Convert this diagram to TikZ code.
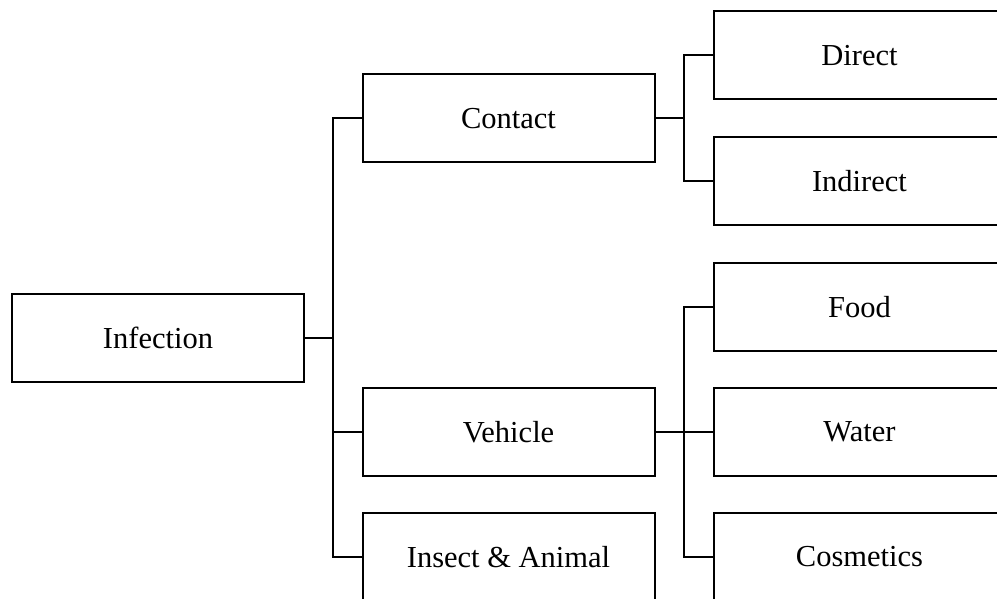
\documentclass[tikz,border=0pt]{standalone}
\usepackage{fontspec}
\setmainfont{Liberation Serif}
\begin{document}
\begin{tikzpicture}[x=1pt,y=-1pt,
  box/.style={draw, line width=2pt, minimum width=292pt, minimum height=88pt, inner sep=0pt, font=\fontsize{30.5}{36}\selectfont},
  conn/.style={line width=2pt}]
\useasboundingbox (0,0) rectangle (997,599);
\clip (0,0) rectangle (997,599);
\node[box] (inf) at (158,337.5) {Infection};
\node[box] (contact) at (508.5,118.5) {Contact};
\node[box] (vehicle) at (508.5,432) {Vehicle};
\node[box] (insect) at (508.5,557) {Insect \& Animal};
\node[box] (direct) at (859.5,55.5) {Direct};
\node[box] (indirect) at (859.5,181) {Indirect};
\node[box] (food) at (859.5,307) {Food};
\node[box] (water) at (859.5,432) {Water};
\node[box] (cosm) at (859.5,557) {Cosmetics};
\coordinate (t1) at (333,0);
\coordinate (t2) at (684,0);
\draw[conn] (contact.west) -- (contact.west -| t1) -- (insect.west -| t1) -- (insect.west);
\draw[conn] (inf.east) -- (inf.east -| t1);
\draw[conn] (vehicle.west) -- (vehicle.west -| t1);
\draw[conn] (direct.west) -- (direct.west -| t2) -- (indirect.west -| t2) -- (indirect.west);
\draw[conn] (contact.east) -- (contact.east -| t2);
\draw[conn] (food.west) -- (food.west -| t2) -- (cosm.west -| t2) -- (cosm.west);
\draw[conn] (vehicle.east) -- (water.west);
\end{tikzpicture}
\end{document}
